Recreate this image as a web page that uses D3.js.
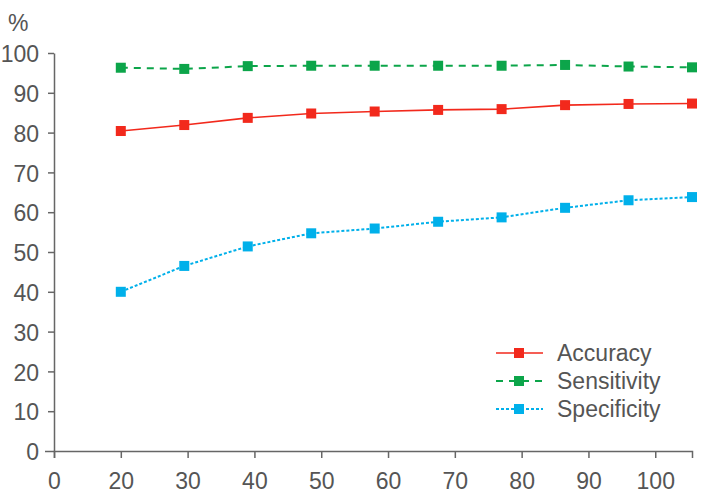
<!DOCTYPE html>
<html><head><meta charset="utf-8">
<script src="https://cdn.jsdelivr.net/npm/d3@7"></script>
<style>
html,body{margin:0;padding:0;background:#fff;}
svg text{font-family:"Liberation Sans",Arial,Helvetica,sans-serif;fill:#555;}
</style></head>
<body><svg id="chart" width="701" height="496"></svg>
<script>
// Tick labels on the x axis (evenly spaced positions)
const xTickLabels = ["0","20","30","40","50","60","70","80","90","100"];
// Point index (10 points)
const pointIdx = [1,2,3,4,5,6,7,8,9,10];
const yTicks = [0,10,20,30,40,50,60,70,80,90,100];
const accuracy    = [80.4, 81.9, 83.7, 84.8, 85.3, 85.7, 85.9, 86.9, 87.2, 87.3];
const sensitivity = [96.3, 96.0, 96.7, 96.8, 96.8, 96.8, 96.8, 97.0, 96.6, 96.4];
const specificity = [40.0, 46.5, 51.4, 54.7, 55.9, 57.6, 58.7, 61.1, 63.0, 63.8];
const seriesNames = ["Accuracy","Sensitivity","Specificity"];
const seriesColors = ["#f2291c","#0ca54a","#00b0ea"];
const seriesDash = [null,"7,6","3,2"];
const seriesData = [accuracy, sensitivity, specificity];

const svg = d3.select("#chart");
const x0 = 54, xEnd = 692, yTop = 53, yBot = 451;
const fs = "23px";
// axis scale: tick label positions 0..9 evenly spaced
const xAxisScale = d3.scaleLinear().domain([0, 9.55]).range([x0, xEnd]);
// point scale: first point under "20", last at axis end
const xPt = d3.scaleLinear().domain([1, 10]).range([xAxisScale(1), xEnd]);
const y = d3.scaleLinear().domain([0,100]).range([yBot, yTop]);

const axisColor = "#666";
// y axis
const yAxis = svg.append("g").attr("transform", `translate(${x0},0)`)
  .call(d3.axisLeft(y).tickValues(yTicks).tickSize(6).tickPadding(10).tickSizeOuter(0));
yAxis.select(".domain").attr("stroke", axisColor).attr("stroke-width", 1.5);
yAxis.selectAll(".tick line").attr("stroke", axisColor).attr("stroke-width", 1.5);
yAxis.selectAll(".tick text").style("font-size",fs).attr("fill","#555").attr("x",-15).attr("dy","0.38em");
yAxis.selectAll(".tick").filter(d => d === 0).select("line").attr("x2", -9);

// x axis
const xAxis = svg.append("g").attr("transform", `translate(0,${yBot})`)
  .call(d3.axisBottom(xAxisScale).tickValues(d3.range(xTickLabels.length))
    .tickFormat(i => xTickLabels[i]).tickSize(7).tickPadding(10).tickSizeOuter(7));
xAxis.select(".domain").attr("stroke", axisColor).attr("stroke-width", 1.5);
xAxis.selectAll(".tick line").attr("stroke", axisColor).attr("stroke-width", 1.5);
xAxis.selectAll(".tick text").style("font-size",fs).attr("fill","#555").attr("dy","0.92em");

// % label
svg.append("text").attr("x", 8).attr("y", 31).style("font-size",fs).text("%");

const line = d3.line().x((d,i) => xPt(pointIdx[i])).y(d => y(d));
seriesData.forEach((data, s) => {
  svg.append("path").datum(data).attr("d", line).attr("fill","none")
    .attr("stroke", seriesColors[s]).attr("stroke-width", s===0?1.6:2)
    .attr("stroke-dasharray", seriesDash[s]);
  svg.append("g").selectAll("rect").data(data).join("rect")
    .attr("x", (d,i) => xPt(pointIdx[i]) - 5).attr("y", d => y(d) - 5)
    .attr("width", 10).attr("height", 10).attr("fill", seriesColors[s]);
});

// legend
const lg = svg.append("g");
seriesNames.forEach((name, s) => {
  const ly = 353 + s*28;
  lg.append("line").attr("x1", 496).attr("x2", 543).attr("y1", ly).attr("y2", ly)
    .attr("stroke", seriesColors[s]).attr("stroke-width", s===0?1.6:2).attr("stroke-dasharray", seriesDash[s]);
  lg.append("rect").attr("x", 514).attr("y", ly-5).attr("width",10).attr("height",10).attr("fill", seriesColors[s]);
  lg.append("text").attr("x", 557).attr("y", ly).attr("dy","0.36em").style("font-size",fs).text(name);
});
</script></body></html>
